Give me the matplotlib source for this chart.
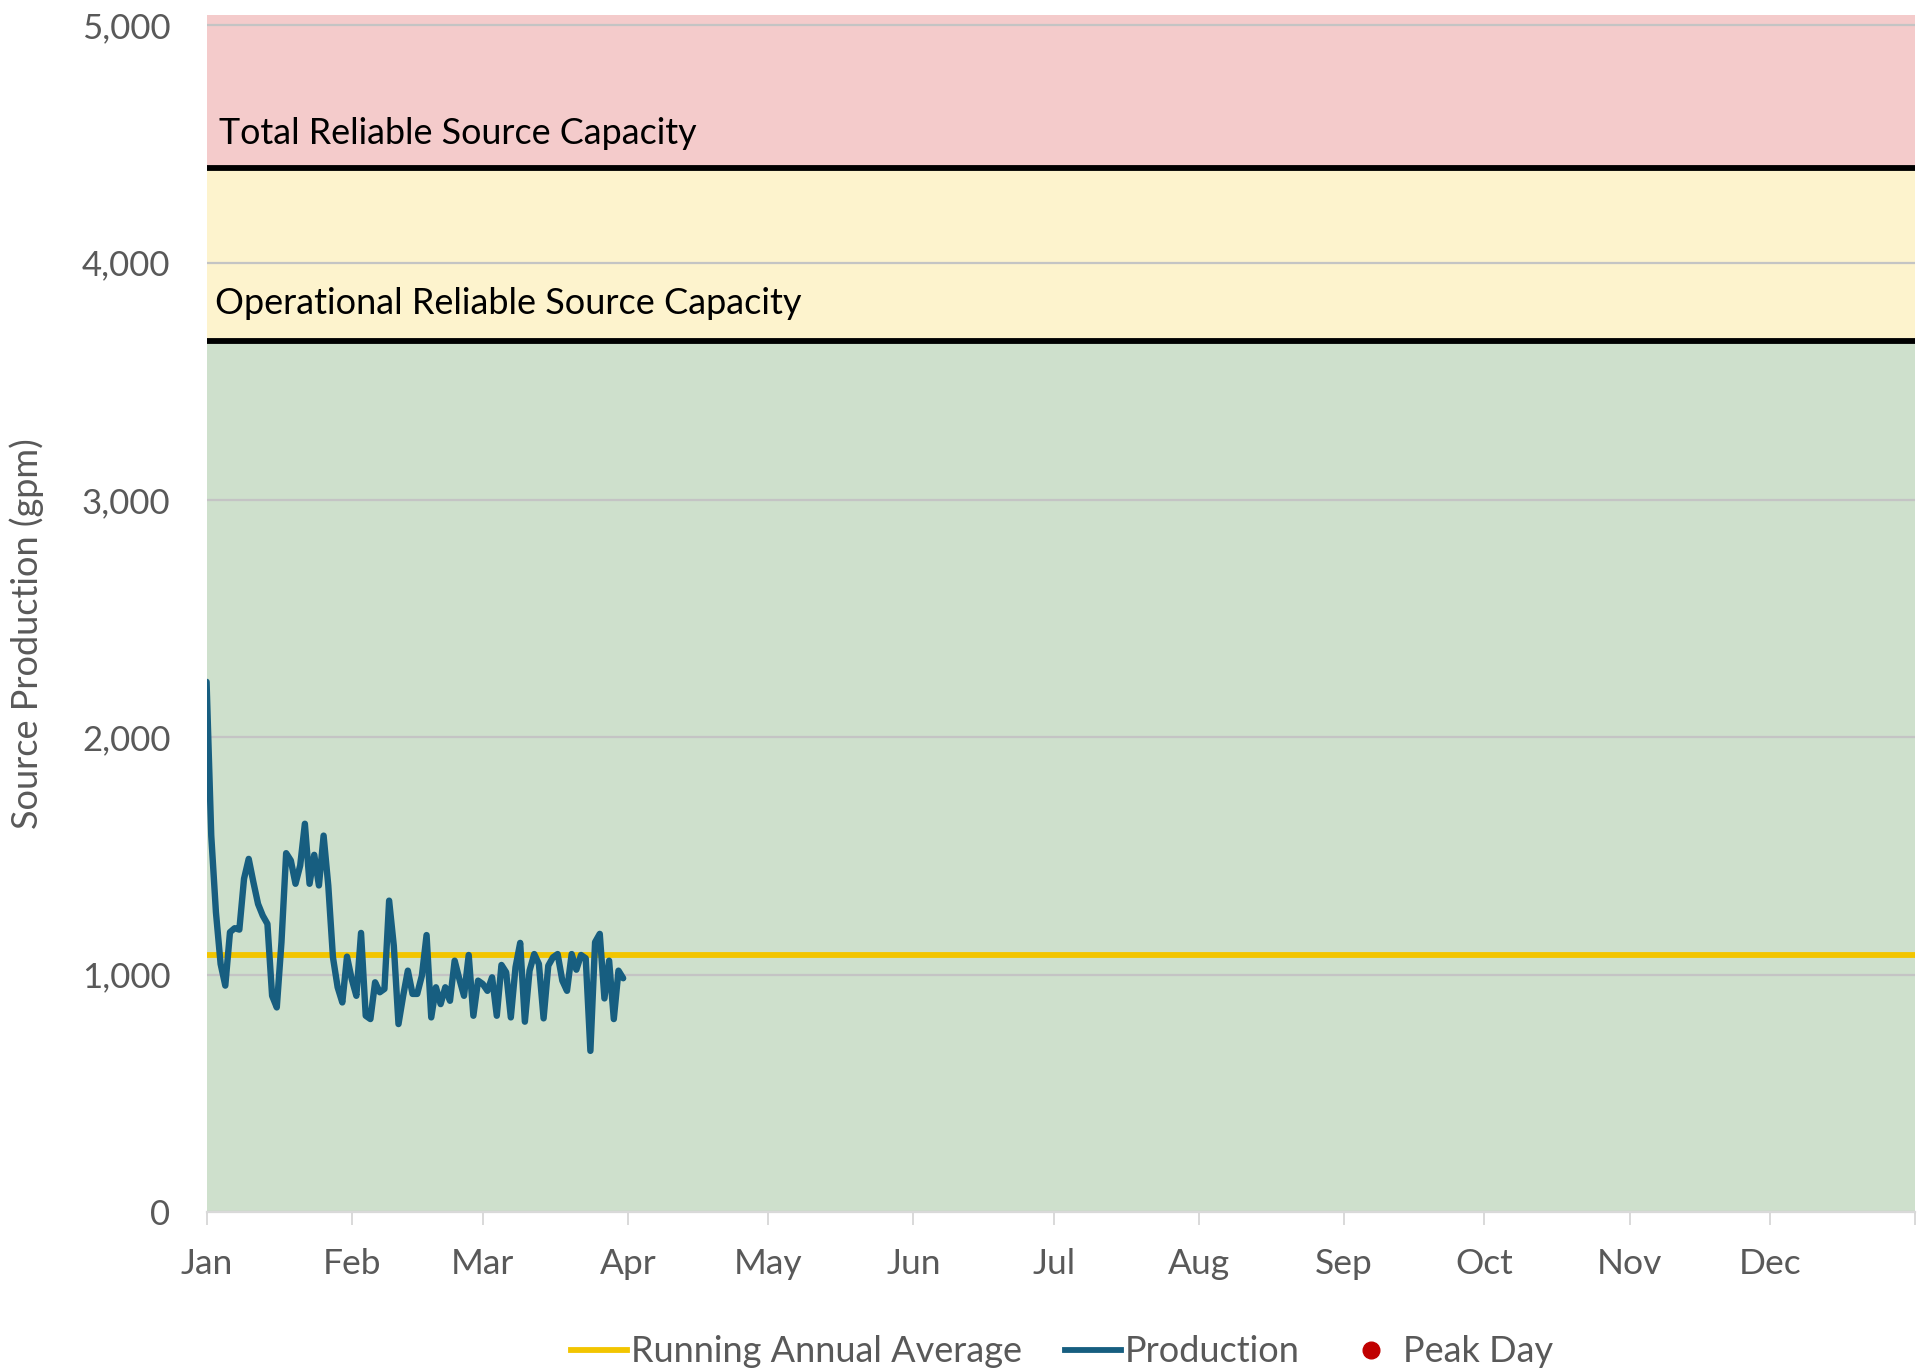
import matplotlib.pyplot as plt
from matplotlib.lines import Line2D

plt.rcParams['font.family'] = ['Lato', 'DejaVu Sans']

# month start days (non-leap year) and labels
month_days = [0, 31, 59, 90, 120, 151, 181, 212, 243, 273, 304, 334, 365]
month_labels = ['Jan', 'Feb', 'Mar', 'Apr', 'May', 'Jun', 'Jul', 'Aug', 'Sep', 'Oct', 'Nov', 'Dec']

# daily production (gpm), Jan 1 - Mar 31
production = [2234, 1586, 1263, 1045, 954, 1179, 1196, 1190, 1404, 1488,
              1390, 1298, 1249, 1214, 911, 862, 1137, 1512, 1481, 1383,
              1460, 1636, 1383, 1505, 1376, 1586, 1376, 1073, 947, 883,
              1076, 982, 911, 1176, 827, 813, 968, 926, 940, 1312,
              1122, 792, 911, 1017, 919, 919, 996, 1167, 820, 947,
              876, 947, 890, 1059, 982, 911, 1083, 827, 975, 961,
              932, 989, 827, 1041, 1010, 820, 1031, 1134, 802, 1017,
              1087, 1045, 816, 1038, 1073, 1087, 975, 932, 1087, 1021,
              1083, 1069, 679, 1137, 1172, 900, 1059, 813, 1017, 985]
prod_days = list(range(len(production)))

running_avg = 1083
operational_capacity = 3670
total_capacity = 4400
y_top = 5045

fig = plt.figure(figsize=(19.27, 13.72), dpi=100)
ax = fig.add_axes([0.1072, 0.1166, 0.8866, 0.8727])

# capacity bands
ax.axhspan(0, operational_capacity, color='#CEE0CC', zorder=0.1, lw=0)
ax.axhspan(operational_capacity, total_capacity, color='#FDF3CD', zorder=0.1, lw=0)
ax.axhspan(total_capacity, y_top, color='#F4CBCB', zorder=0.1, lw=0)

ax.set_axisbelow(True)
ax.yaxis.grid(True, color='#C4C4C4', lw=1.6)

ax.plot([0, 365], [total_capacity, total_capacity], color='black', lw=4.2,
        solid_capstyle='round', zorder=2)
ax.plot([0, 365], [operational_capacity, operational_capacity], color='black', lw=4.2,
        solid_capstyle='round', zorder=2)

ax.plot([0, 365], [running_avg, running_avg], color='#F2C500', lw=4.2, zorder=3)
ax.plot(prod_days, production, color='#175E80', lw=4.6, solid_joinstyle='round',
        solid_capstyle='round', zorder=4)

ax.text(2.6, 4543, 'Total Reliable Source Capacity', fontsize=25.8, va='center', ha='left')
ax.text(1.8, 3828, 'Operational Reliable Source Capacity', fontsize=26, va='center', ha='left')

ax.set_xlim(0, 365)
ax.set_ylim(0, y_top)
ax.set_yticks([0, 1000, 2000, 3000, 4000, 5000])
ax.set_yticklabels(['0', '1,000', '2,000', '3,000', '4,000', '5,000'])
ax.set_xticks(month_days)
ax.set_xticklabels(month_labels + [''])

for s in ['left', 'right', 'top']:
    ax.spines[s].set_visible(False)
ax.spines['bottom'].set_color('#D9D9D9')
ax.spines['bottom'].set_linewidth(1.6)

ax.tick_params(axis='y', length=0, pad=26, labelsize=25, labelcolor='#595959')
ax.tick_params(axis='x', length=9, width=1.4, color='#D9D9D9', pad=17,
               labelsize=25.5, labelcolor='#595959')

fig.text(27 / 1927, 1 - 634 / 1372, 'Source Production (gpm)', rotation=90,
         ha='center', va='center', fontsize=26, color='#595959')

handles = [Line2D([], [], color='#F2C500', lw=4.2),
           Line2D([], [], color='#175E80', lw=4.2),
           Line2D([], [], color='#C00000', lw=0, marker='o', markersize=12)]
fig.legend(handles, ['Running Annual Average', 'Production', 'Peak Day'],
           loc='center', bbox_to_anchor=(1062 / 1927, 20 / 1372), ncol=3,
           frameon=False, fontsize=26, labelcolor='#595959',
           handlelength=1.55, handletextpad=0.1, columnspacing=1.2)

fig.savefig('out.png', dpi=100)
